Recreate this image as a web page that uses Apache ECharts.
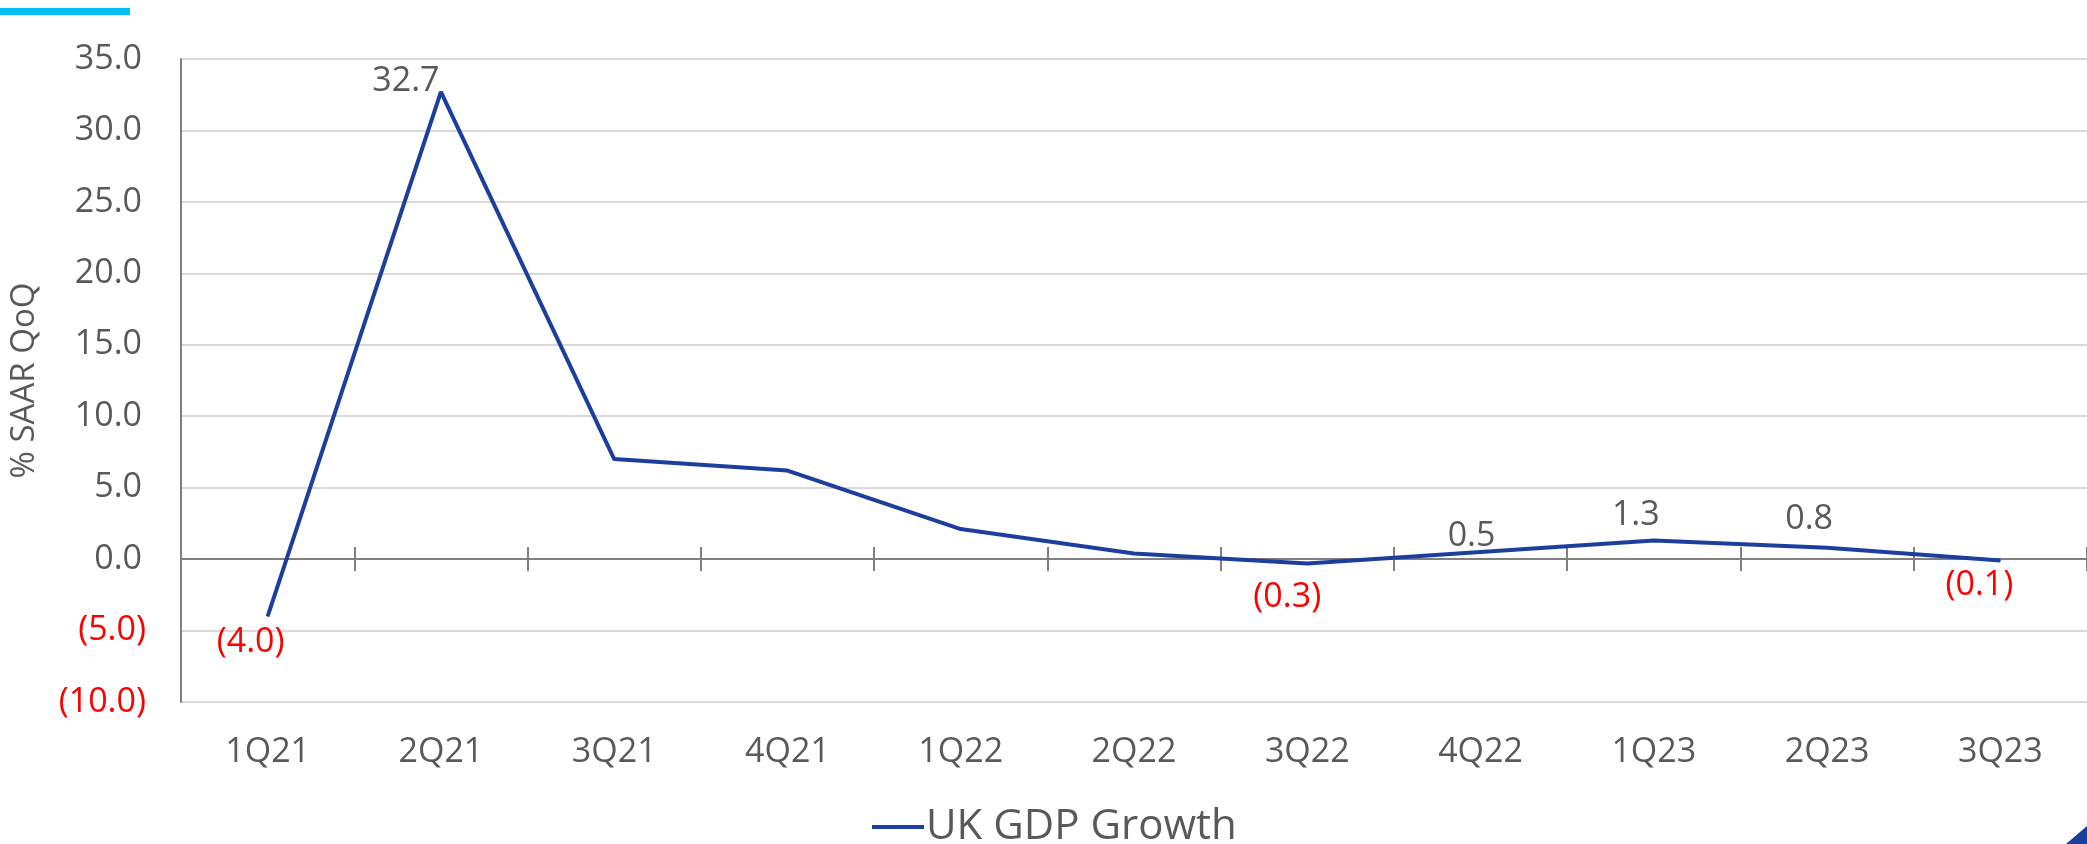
<!DOCTYPE html>
<html>
<head>
<meta charset="utf-8">
<script src="https://cdn.jsdelivr.net/npm/echarts@6/dist/echarts.min.js"></script>
<style>
  html, body { margin: 0; padding: 0; background: #fff; }
  #main { width: 2087px; height: 844px; }
</style>
</head>
<body>
<div id="main"></div>
<script>
    var myChart = echarts.init(document.getElementById('main'));

    // 季度
    var quarters = ['1Q21', '2Q21', '3Q21', '4Q21', '1Q22', '2Q22', '3Q22', '4Q22', '1Q23', '2Q23', '3Q23'];
    // % SAAR QoQ
    var gdpGrowth = [-4.0, 32.7, 7.0, 6.2, 2.1, 0.4, -0.3, 0.5, 1.3, 0.8, -0.1];
    // 哪些点显示标签
    var showLabel = [true, true, false, false, false, false, true, true, true, true, true];
    var labelOffset = [[-17, 26], [-35, -11], null, null, null, null, [-20, 34], [-9, -16], [-18, -25], [-18, -28], [-21, 25]];

    var fmt = function (v) {
        v = Number(v);
        return v < 0 ? '(' + Math.abs(v).toFixed(1) + ')' : v.toFixed(1);
    };

    var grey = '#595959';
    var font = '"Open Sans", "DejaVu Sans", sans-serif';
    var fs = 34;

    var seriesData = gdpGrowth.map(function (v, i) {
        return {
            value: v,
            label: {
                show: showLabel[i],
                position: 'inside',
                offset: labelOffset[i] || [0, 0],
                color: v < 0 ? '#ff0000' : grey,
                fontSize: fs,
                fontFamily: font,
                formatter: function (p) { return fmt(p.value); }
            }
        };
    });

    var gridBox = {left: 181, right: -8, top: 59, bottom: 142, containLabel: false};

    option = {
        animation: false,
        backgroundColor: '#fff',
        graphic: [
            {type: 'rect', left: 0, top: 8, shape: {width: 130, height: 7}, style: {fill: '#00bff3'}},
            {type: 'polygon', shape: {points: [[2087, 826], [2087, 844], [2066, 844]]}, style: {fill: '#1c3f9e'}}
        ],
        legend: {
            left: 867,
            top: 801,
            icon: 'rect',
            itemWidth: 52,
            itemHeight: 4,
            itemGap: 10,
            textStyle: {color: grey, fontSize: 42, fontFamily: font, padding: [0, 0, 0, -3]},
            data: ['UK GDP Growth']
        },
        // 第二个 grid 只用来画零线上方的刻度
        grid: [gridBox, gridBox],
        xAxis: [
            {
                type: 'category',
                data: quarters,
                position: 'bottom',
                axisLine: {show: false, onZero: false},
                axisTick: {show: false},
                axisLabel: {margin: 33, color: grey, fontSize: fs, fontFamily: font},
                splitLine: {show: false}
            },
            {
                type: 'category',
                data: quarters,
                position: 'top',
                axisLine: {onZero: true, lineStyle: {color: '#808080', width: 2}},
                axisTick: {show: true, length: 12, lineStyle: {color: '#808080', width: 2}},
                axisLabel: {show: false},
                splitLine: {show: false}
            },
            {
                type: 'category',
                gridIndex: 1,
                data: quarters,
                position: 'bottom',
                axisLine: {onZero: true, lineStyle: {color: '#808080', width: 2}},
                axisTick: {show: true, length: 12, lineStyle: {color: '#808080', width: 2}},
                axisLabel: {show: false},
                splitLine: {show: false}
            }
        ],
        yAxis: [
            {
                type: 'value',
                min: -10,
                max: 35,
                interval: 5,
                name: '% SAAR QoQ',
                nameLocation: 'middle',
                nameGap: 140,
                nameTextStyle: {color: grey, fontSize: 33, fontFamily: font},
                axisLine: {show: true, lineStyle: {color: '#808080', width: 2}},
                axisTick: {show: false},
                axisLabel: {
                    margin: 35,
                    fontSize: fs,
                    fontFamily: font,
                    formatter: function (v) {
                        return v < 0 ? '{n|' + fmt(v) + '}' : '{p|' + fmt(v) + '}';
                    },
                    rich: {
                        n: {color: '#ff0000', fontSize: fs, fontFamily: font},
                        p: {color: grey, fontSize: fs, fontFamily: font, padding: [0, 4, 0, 0]}
                    }
                },
                splitLine: {lineStyle: {color: '#d9d9d9', width: 2}}
            },
            {
                type: 'value',
                gridIndex: 1,
                min: -10,
                max: 35,
                interval: 5,
                axisLine: {show: false},
                axisTick: {show: false},
                axisLabel: {show: false},
                splitLine: {show: false}
            }
        ],
        series: [{
            name: 'UK GDP Growth',
            type: 'line',
            xAxisIndex: 0,
            yAxisIndex: 0,
            data: seriesData,
            symbol: 'circle',
            symbolSize: 1,
            showSymbol: true,
            itemStyle: {color: '#1c3f9e'},
            lineStyle: {color: '#1c3f9e', width: 4},
            z: 5
        }]
    };

    myChart.setOption(option);
</script>
</body>
</html>
